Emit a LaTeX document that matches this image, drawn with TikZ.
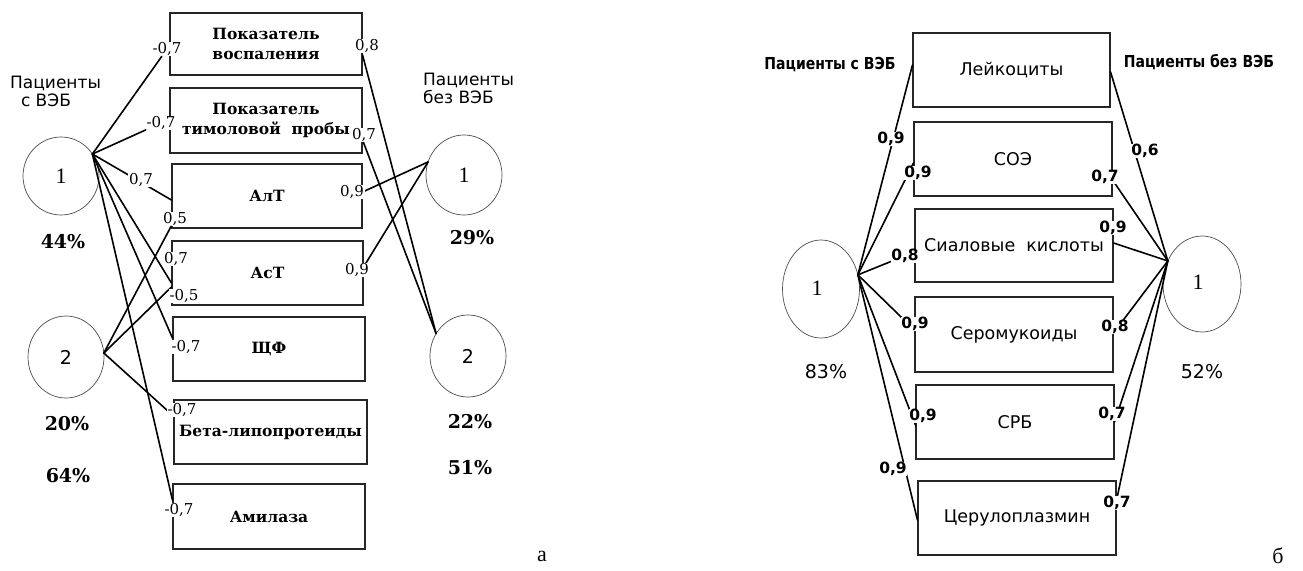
\documentclass[tikz,border=0pt]{standalone}
\usepackage{fontspec}
\setmainfont{DejaVu Serif}
\setsansfont{DejaVu Sans}
\newfontfamily\timesf{Liberation Serif}
\newfontfamily\narrowsans[FakeStretch=0.85]{DejaVu Sans}
\usetikzlibrary{shapes.geometric}

\begin{document}
\begin{tikzpicture}[x=1pt,y=-1pt,
  lbox/.style={draw=black!85, line width=1.1pt, inner sep=0pt, align=center,
    font=\bfseries\fontsize{15.5}{20.5}\selectfont},
  rbox/.style={draw=black!85, line width=1.1pt, inner sep=0pt, align=center,
    minimum width=198, minimum height=74, font=\sffamily\fontsize{17.5}{20}\selectfont},
  grp/.style={ellipse, draw=black!70, line width=0.7pt, inner sep=0pt, outer sep=0pt},
  wire/.style={line width=1.6pt, line cap=round},
  lnum/.style={fill=white, inner sep=0.6pt, font=\fontsize{15}{15}\selectfont},
  rnum/.style={fill=white, inner sep=0.6pt, font=\sffamily\bfseries\fontsize{15.5}{15.5}\selectfont},
  pct/.style={font=\bfseries\fontsize{19}{19}\selectfont},
  rpct/.style={font=\sffamily\fontsize{19}{19}\selectfont},
  head/.style={font=\sffamily\fontsize{17}{18}\selectfont, align=left, inner sep=0pt},
  rhead/.style={font=\narrowsans\bfseries\fontsize{16.5}{18}\selectfont, inner sep=0pt},
  cnum/.style={font=\timesf\fontsize{22}{22}\selectfont},
  cnums/.style={font=\sffamily\fontsize{19}{19}\selectfont},
  panel/.style={font=\timesf\fontsize{22}{22}\selectfont}]
\useasboundingbox (0,0) rectangle (1303,570);

% ---------- panel a: indicator boxes ----------
\node[lbox, minimum width=192, minimum height=62] (A1) at (266,44) {Показатель\\воспаления};
\node[lbox, minimum width=192, minimum height=65] (A2) at (266,120.5) {Показатель\\тимоловой\ \ пробы};
\node[lbox, minimum width=190, minimum height=64] (A3) at (267,196) {АлТ};
\node[lbox, minimum width=191, minimum height=64] (A4) at (267.5,273) {АсТ};
\node[lbox, minimum width=192, minimum height=64] (A5) at (269,349) {ЩФ};
\node[lbox, minimum width=193, minimum height=64] (A6) at (270.5,432) {Бета-липопротеиды};
\node[lbox, minimum width=192, minimum height=65] (A7) at (269,516.5) {Амилаза};

% ---------- panel a: patient groups ----------
\node[grp, minimum width=76, minimum height=78] (LC1) at (61,176) {};
\node[grp, minimum width=76, minimum height=82] (LC2) at (66,357) {};
\node[grp, minimum width=76, minimum height=80] (RC1) at (464,175) {};
\node[grp, minimum width=76, minimum height=82] (RC2) at (468,356) {};
\node[cnum] (LC1n) at (LC1) {1};
\node[cnums] (LC2n) at (LC2) {2};
\node[cnum] (RC1n) at (RC1) {1};
\node[cnums] (RC2n) at (RC2) {2};

\node[head, anchor=west] (hA1) at (10,91) {Пациенты\\\ \ с ВЭБ};
\node[head, anchor=west] (hA2) at (423,88) {Пациенты\\без ВЭБ};

\node[pct] (p44) at (63,242) {44\%};
\node[pct] (p20) at (67,424) {20\%};
\node[pct] (p64) at (68,476) {64\%};
\node[pct] (p29) at (472,238) {29\%};
\node[pct] (p22) at (470,422) {22\%};
\node[pct] (p51) at (470,468) {51\%};
\node[panel] (pa) at (542,556) {а};

% ---------- panel a: connections ----------
\coordinate (H1) at (LC1.35);
\coordinate (H2) at (LC2.6);
\coordinate (H3) at (RC1.160);
\coordinate (H4) at (RC2.145);

\node[lnum] (a1) at (167,49) {-0,7};
\node[lnum] (a2) at (161,123) {-0,7};

\draw[wire] (H1) -- (a1);
\draw[wire] (H1) -- (a2);
\draw[wire] (H1) -- (A3.west |- 0,200);
\draw[wire] (H1) -- (A4.west |- 0,283);
\draw[wire] (H1) -- (A5.west |- 0,338);
\draw[wire] (H1) -- (A7.west |- 0,500);

\node[lnum] (a05) at (175,219) {0,5};
\draw[wire] (H2) -- (a05);
\draw[wire] (H2) -- (A4.west |- 0,287);
\draw[wire] (H2) -- (A6.west |- 0,416);

\draw[wire] (H3) -- (A3.east |- 0,192);
\draw[wire] (H3) -- (A4.east |- 0,267);
\draw[wire] (H4) -- (A1.east |- 0,55);
\draw[wire] (H4) -- (A2.east |- 0,140);

\node[lnum] (a3) at (141,180) {0,7};
\node[lnum] (a4) at (176,259) {0,7};
\node[lnum] (a5) at (186,347) {-0,7};
\node[lnum] (a6) at (184,296) {-0,5};
\node[lnum] (a7) at (182,410) {-0,7};
\node[lnum] (a8) at (179,510) {-0,7};
\node[lnum] (a9) at (352,192) {0,9};
\node[lnum] (a10) at (357,270) {0,9};
\node[lnum] (a11) at (367,46) {0,8};
\node[lnum] (a12) at (364,135) {0,7};

% ---------- panel b: indicator boxes ----------
\node[rbox, minimum width=197] (B1) at (1011.5,70) {Лейкоциты};
\node[rbox] (B2) at (1013,159) {СОЭ};
\node[rbox, minimum height=73] (B3) at (1014,245.5) {Сиаловые\ \ кислоты};
\node[rbox, minimum height=75] (B4) at (1014,334.5) {Серомукоиды};
\node[rbox] (B5) at (1015,422) {СРБ};
\node[rbox] (B6) at (1017,518) {Церулоплазмин};

% ---------- panel b: patient groups ----------
\node[grp, minimum width=77, minimum height=98] (BL) at (821,289) {};
\node[grp, minimum width=78, minimum height=96] (BR) at (1202,284) {};
\node[cnum] (BLn) at (817,288) {1};
\node[cnum] (BRn) at (1198,282) {1};

\node[rhead] (hB1) at (830,65) {Пациенты с ВЭБ};
\node[rhead] (hB2) at (1199,62) {Пациенты без ВЭБ};
\node[rpct] (p83) at (826,372) {83\%};
\node[rpct] (p52) at (1202,372) {52\%};
\node[panel] (pb) at (1278,556) {б};

% ---------- panel b: connections ----------
\coordinate (G1) at (BL.21);
\coordinate (G2) at (BR.146);

\draw[wire] (G1) -- (B1.west |- 0,65);
\draw[wire] (G1) -- (B2.west |- 0,163);
\draw[wire] (G1) -- (B3.west |- 0,252);
\draw[wire] (G1) -- (B4.west |- 0,330);
\draw[wire] (G1) -- (B5.west |- 0,425);
\draw[wire] (G1) -- (B6.west |- 0,520);

\draw[wire] (G2) -- (B1.east |- 0,72);
\draw[wire] (G2) -- (B2.east |- 0,180);
\draw[wire] (G2) -- (B3.east |- 0,243);
\draw[wire] (G2) -- (B4.east |- 0,333);
\draw[wire] (G2) -- (B5.east |- 0,422);
\draw[wire] (G2) -- (B6.east |- 0,500);

\node[rnum] (b1) at (891,139) {0,9};
\node[rnum] (b2) at (918,173) {0,9};
\node[rnum] (b3) at (905,256) {0,8};
\node[rnum] (b4) at (915,324) {0,9};
\node[rnum] (b5) at (923,416) {0,9};
\node[rnum] (b6) at (893,469) {0,9};
\node[rnum] (b7) at (1145,151) {0,6};
\node[rnum] (b8) at (1105,177) {0,7};
\node[rnum] (b9) at (1113,228) {0,9};
\node[rnum] (b10) at (1115,327) {0,8};
\node[rnum] (b11) at (1112,414) {0,7};
\node[rnum] (b12) at (1117,503) {0,7};
\end{tikzpicture}
\end{document}
